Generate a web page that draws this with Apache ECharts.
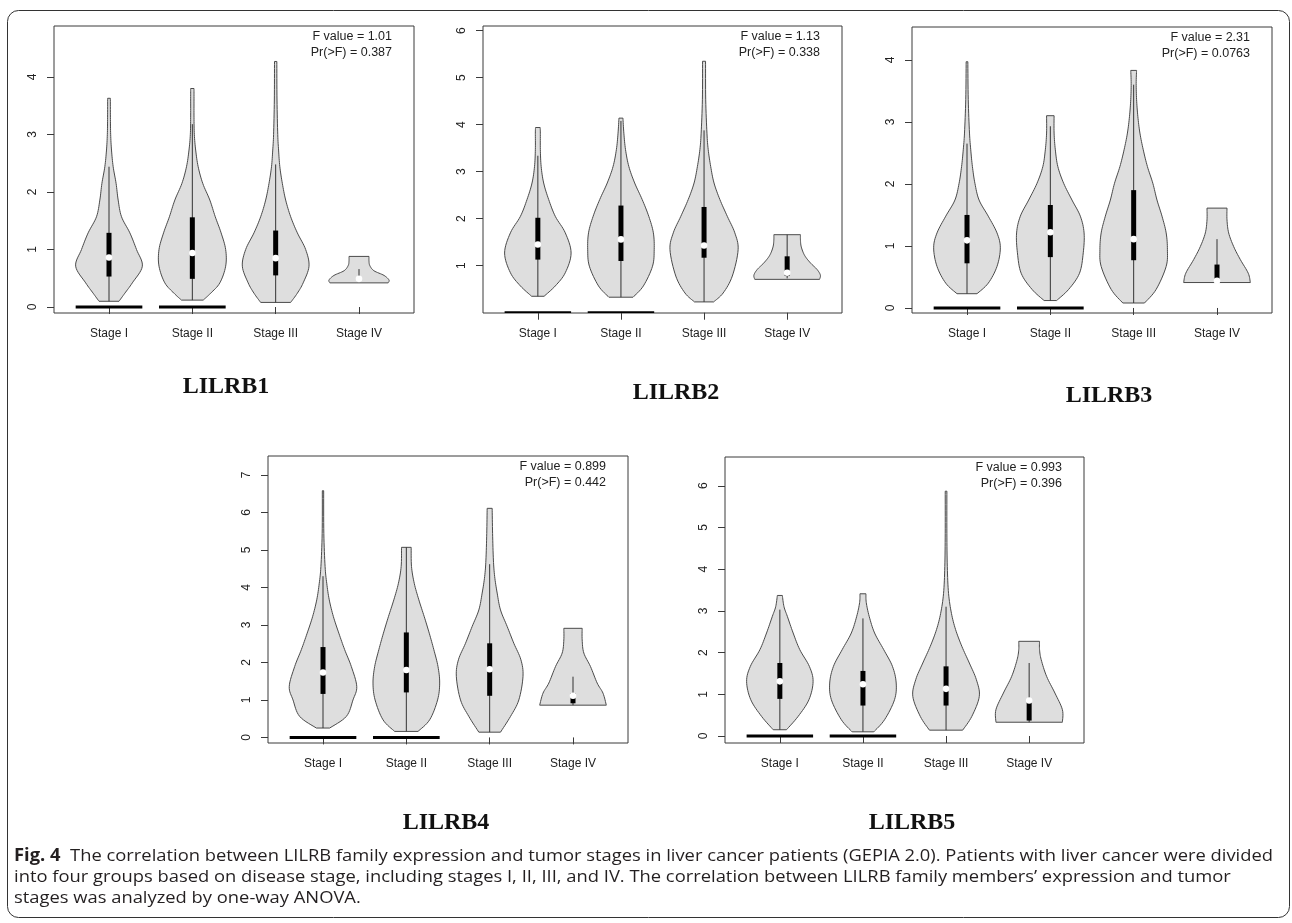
<!DOCTYPE html>
<html>
<head>
<meta charset="utf-8">
<script src="https://cdn.jsdelivr.net/npm/echarts@6/dist/echarts.min.js"></script>
<style>
  html, body { margin: 0; padding: 0; background: #fff; }
  #chart { width: 1292px; height: 923px; }
</style>
</head>
<body>
<div id="chart"></div>
<script>
// ---- data -------------------------------------------------------------
const stages = ['Stage I', 'Stage II', 'Stage III', 'Stage IV'];
const genes = ['LILRB1', 'LILRB2', 'LILRB3', 'LILRB4', 'LILRB5'];
const fValues = ['1.01', '1.13', '2.31', '0.899', '0.993'];
const pValues = ['0.387', '0.338', '0.0763', '0.442', '0.396'];

// y-axis tick labels for each panel
const yTicks1 = [0, 1, 2, 3, 4];
const yTicks2 = [1, 2, 3, 4, 5, 6];
const yTicks3 = [0, 1, 2, 3, 4];
const yTicks4 = [0, 1, 2, 3, 4, 5, 6, 7];
const yTicks5 = [0, 1, 2, 3, 4, 5, 6];

// violin outlines per stage: [expression, half width in category units], bottom to top
const lilrb1Violins = [
  [[0.10,0.12],[0.24,0.19],[0.42,0.28],[0.71,0.40],[1.00,0.33],[1.29,0.25],[1.57,0.15],[1.86,0.11],[2.15,0.085],[2.44,0.05],[2.73,0.03],[3.00,0.02],[3.30,0.017],[3.63,0.016]],
  [[0.12,0.13],[0.24,0.22],[0.42,0.33],[0.71,0.40],[1.00,0.40],[1.29,0.345],[1.57,0.275],[1.86,0.21],[2.15,0.125],[2.44,0.07],[2.73,0.04],[3.00,0.024],[3.30,0.02],[3.60,0.02],[3.80,0.02]],
  [[0.08,0.18],[0.24,0.26],[0.42,0.33],[0.71,0.40],[1.00,0.36],[1.29,0.26],[1.57,0.18],[1.86,0.12],[2.15,0.08],[2.44,0.05],[2.73,0.035],[3.00,0.025],[3.60,0.016],[4.27,0.014]],
  [[0.42,0.35],[0.47,0.36],[0.55,0.30],[0.63,0.18],[0.72,0.13],[0.80,0.12],[0.88,0.12]]
];
const lilrb2Violins = [
  [[0.35,0.075],[0.57,0.21],[0.85,0.33],[1.27,0.40],[1.70,0.33],[2.05,0.21],[2.41,0.13],[2.76,0.07],[3.11,0.04],[3.47,0.03],[3.82,0.03],[3.94,0.028]],
  [[0.33,0.145],[0.57,0.27],[0.99,0.38],[1.34,0.40],[1.70,0.39],[2.05,0.335],[2.41,0.255],[2.76,0.165],[3.11,0.095],[3.47,0.055],[3.82,0.035],[4.14,0.024]],
  [[0.23,0.115],[0.42,0.23],[0.78,0.34],[1.34,0.41],[1.70,0.37],[2.05,0.28],[2.41,0.19],[2.76,0.12],[3.11,0.08],[3.47,0.05],[3.82,0.035],[4.53,0.02],[5.35,0.018]],
  [[0.71,0.39],[0.80,0.40],[0.92,0.36],[1.06,0.28],[1.22,0.21],[1.40,0.17],[1.55,0.16],[1.66,0.16]]
];
const lilrb3Violins = [
  [[0.23,0.12],[0.40,0.255],[0.67,0.36],[0.97,0.40],[1.21,0.36],[1.48,0.255],[1.74,0.145],[2.01,0.095],[2.28,0.065],[2.55,0.045],[2.82,0.03],[3.36,0.015],[3.97,0.01]],
  [[0.12,0.075],[0.30,0.22],[0.56,0.35],[0.89,0.395],[1.21,0.405],[1.48,0.36],[1.74,0.26],[2.01,0.16],[2.28,0.09],[2.55,0.06],[2.82,0.045],[3.10,0.045]],
  [[0.08,0.13],[0.30,0.27],[0.67,0.39],[0.94,0.405],[1.21,0.39],[1.48,0.34],[1.74,0.28],[2.01,0.23],[2.28,0.165],[2.55,0.115],[2.82,0.075],[3.09,0.05],[3.36,0.035],[3.62,0.03],[3.83,0.035]],
  [[0.41,0.40],[0.56,0.375],[0.78,0.28],[0.99,0.20],[1.21,0.14],[1.42,0.12],[1.61,0.12]]
];
const lilrb4Violins = [
  [[0.25,0.08],[0.56,0.28],[1.00,0.36],[1.36,0.405],[1.89,0.34],[2.34,0.26],[2.78,0.19],[3.22,0.125],[3.67,0.075],[4.11,0.045],[4.56,0.025],[5.44,0.01],[6.58,0.008]],
  [[0.16,0.14],[0.47,0.28],[1.00,0.375],[1.45,0.40],[1.89,0.38],[2.34,0.33],[2.78,0.275],[3.22,0.215],[3.67,0.15],[4.11,0.095],[4.56,0.062],[5.07,0.058]],
  [[0.14,0.13],[0.56,0.25],[1.00,0.35],[1.63,0.40],[2.07,0.375],[2.51,0.29],[2.96,0.21],[3.40,0.13],[3.85,0.09],[4.29,0.06],[4.73,0.045],[5.44,0.035],[6.11,0.03]],
  [[0.86,0.40],[1.18,0.36],[1.45,0.29],[1.89,0.21],[2.25,0.13],[2.60,0.11],[2.91,0.11]]
];
const lilrb5Violins = [
  [[0.15,0.08],[0.47,0.22],[0.87,0.35],[1.31,0.40],[1.67,0.355],[2.07,0.24],[2.47,0.16],[2.87,0.09],[3.10,0.05],[3.37,0.03]],
  [[0.10,0.13],[0.39,0.26],[0.87,0.38],[1.27,0.40],[1.67,0.355],[2.07,0.25],[2.47,0.14],[2.87,0.075],[3.20,0.04],[3.41,0.036]],
  [[0.14,0.20],[0.47,0.31],[0.95,0.40],[1.35,0.365],[1.75,0.28],[2.15,0.19],[2.55,0.115],[2.94,0.065],[3.42,0.03],[4.06,0.015],[4.86,0.01],[5.87,0.01]],
  [[0.33,0.40],[0.63,0.40],[1.03,0.31],[1.43,0.21],[1.83,0.145],[2.07,0.125],[2.27,0.125]]
];

// box summaries per stage: [whisker low, Q1, median, Q3, whisker high]
const lilrb1Boxes = [[0.10,0.53,0.86,1.29,2.44],[0.12,0.49,0.94,1.56,3.18],[0.08,0.55,0.85,1.33,2.48],[0.45,0.47,0.49,0.52,0.66]];
const lilrb2Boxes = [[0.35,1.13,1.45,2.02,3.34],[0.33,1.10,1.56,2.28,4.08],[0.23,1.17,1.43,2.25,3.88],[0.73,0.78,0.85,1.20,1.66]];
const lilrb3Boxes = [[0.23,0.72,1.09,1.50,2.65],[0.12,0.82,1.22,1.66,2.93],[0.08,0.77,1.11,1.90,3.60],[0.41,0.44,0.44,0.70,1.11]];
const lilrb4Boxes = [[0.25,1.16,1.73,2.41,4.30],[0.16,1.20,1.80,2.80,5.07],[0.14,1.11,1.82,2.51,4.62],[0.86,0.91,1.11,1.18,1.62]];
const lilrb5Boxes = [[0.15,0.89,1.31,1.75,3.03],[0.10,0.73,1.24,1.56,2.82],[0.14,0.73,1.13,1.67,3.10],[0.33,0.37,0.85,0.89,1.75]];

// half width of the bar of zero-expression samples at y = 0 (0 = none)
const zeroBars = [0.40, 0.40, 0, 0];

// ---- layout -----------------------------------------------------------
const panels = [
  { violins: lilrb1Violins, boxes: lilrb1Boxes, ticks: yTicks1, left: 54,  top: 26,  width: 360, height: 287, ymin: -0.104, ymax: 4.887, title: [226, 387] },
  { violins: lilrb2Violins, boxes: lilrb2Boxes, ticks: yTicks2, left: 483, top: 26,  width: 359, height: 287, ymin: -0.006, ymax: 6.10,  title: [676, 393] },
  { violins: lilrb3Violins, boxes: lilrb3Boxes, ticks: yTicks3, left: 912, top: 27,  width: 360, height: 286, ymin: -0.081, ymax: 4.53,  title: [1109, 396] },
  { violins: lilrb4Violins, boxes: lilrb4Boxes, ticks: yTicks4, left: 268, top: 456, width: 360, height: 287, ymin: -0.149, ymax: 7.506, title: [446, 823] },
  { violins: lilrb5Violins, boxes: lilrb5Boxes, ticks: yTicks5, left: 725, top: 457, width: 359, height: 286, ymin: -0.168, ymax: 6.69,  title: [912, 823] }
];

const AXIS_FONT = '"Liberation Sans", Arial, sans-serif';
const FRAME = '#3a3a3a';

// Catmull-Rom smoothing of a pixel polyline
function spline(pts, steps) {
  const out = [];
  const n = pts.length;
  for (let i = 0; i < n - 1; i++) {
    const p0 = pts[Math.max(i - 1, 0)], p1 = pts[i], p2 = pts[i + 1], p3 = pts[Math.min(i + 2, n - 1)];
    for (let s = 0; s < steps; s++) {
      const t = s / steps, t2 = t * t, t3 = t2 * t;
      const f = (a, b, c, d) => 0.5 * (2 * b + (-a + c) * t + (2 * a - 5 * b + 4 * c - d) * t2 + (-a + 3 * b - 3 * c + d) * t3);
      out.push([f(p0[0], p1[0], p2[0], p3[0]), f(p0[1], p1[1], p2[1], p3[1])]);
    }
  }
  out.push(pts[n - 1]);
  return out;
}

function makeRenderer(panel) {
  return function (params, api) {
    const i = params.dataIndex;
    const cx = i + 1;
    const prof = panel.violins[i];
    const box = panel.boxes[i];
    const right = spline(prof.map(p => api.coord([cx + p[1], p[0]])), 8);
    const left = spline(prof.map(p => api.coord([cx - p[1], p[0]])), 8).reverse();
    const children = [{
      type: 'polygon',
      shape: { points: right.concat(left) },
      style: { fill: '#dedede', stroke: '#4a4a4a', lineWidth: 1 }
    }];
    const c = api.coord([cx, 0])[0];
    const lo = api.coord([cx, box[0]])[1];
    const q1 = api.coord([cx, box[1]])[1];
    const md = api.coord([cx, box[2]])[1];
    const q3 = api.coord([cx, box[3]])[1];
    const hi = api.coord([cx, box[4]])[1];
    children.push({ type: 'line', shape: { x1: c, y1: lo, x2: c, y2: hi }, style: { stroke: '#333', lineWidth: 1 } });
    children.push({ type: 'rect', shape: { x: c - 2.5, y: q3, width: 5, height: Math.max(q1 - q3, 1) }, style: { fill: '#000' } });
    children.push({ type: 'circle', shape: { cx: c, cy: md, r: 3.3 }, style: { fill: '#fff' } });
    if (zeroBars[i] > 0) {
      const a = api.coord([cx - zeroBars[i], 0]);
      const b = api.coord([cx + zeroBars[i], 0]);
      children.push({ type: 'line', shape: { x1: a[0], y1: a[1], x2: b[0], y2: b[1] }, style: { stroke: '#000', lineWidth: 3 } });
    }
    return { type: 'group', children };
  };
}

const grid = [], xAxis = [], yAxis = [], series = [], graphic = [];

panels.forEach((p, k) => {
  grid.push({
    left: p.left, top: p.top, width: p.width, height: p.height,
    show: true, borderColor: FRAME, borderWidth: 1, backgroundColor: 'transparent'
  });
  xAxis.push({
    type: 'value', gridIndex: k, min: 0.34, max: 4.66,
    axisLine: { show: false }, splitLine: { show: false },
    axisTick: { show: true, length: 7, customValues: [1, 2, 3, 4], lineStyle: { color: FRAME } },
    axisLabel: {
      customValues: [1, 2, 3, 4], margin: 15, fontSize: 12, color: '#222', fontFamily: AXIS_FONT,
      formatter: v => stages[Math.round(v) - 1]
    }
  });
  yAxis.push({
    type: 'value', gridIndex: k, min: p.ymin, max: p.ymax,
    axisLine: { show: false }, splitLine: { show: false },
    axisTick: { show: true, length: 7, customValues: p.ticks, lineStyle: { color: FRAME } },
    axisLabel: { customValues: p.ticks, rotate: 90, margin: 15, fontSize: 12, color: '#222', fontFamily: AXIS_FONT }
  });
  series.push({
    type: 'custom', xAxisIndex: k, yAxisIndex: k, clip: true, silent: true,
    renderItem: makeRenderer(p),
    data: p.violins.map((v, i) => [i + 1, v[0][0], v[v.length - 1][0]]),
    encode: { x: 0, y: [1, 2] }
  });
  const tx = p.left + p.width - 22;
  graphic.push({ type: 'text', x: tx, y: p.top + 11, style: { text: 'F value = ' + fValues[k], align: 'right', verticalAlign: 'middle', font: '12.5px ' + AXIS_FONT, fill: '#222' } });
  graphic.push({ type: 'text', x: tx, y: p.top + 27, style: { text: 'Pr(>F) = ' + pValues[k], align: 'right', verticalAlign: 'middle', font: '12.5px ' + AXIS_FONT, fill: '#222' } });
  graphic.push({ type: 'text', x: p.title[0], y: p.title[1], style: { text: genes[k], align: 'center', verticalAlign: 'middle', font: 'bold 24px "Liberation Serif", "Times New Roman", serif', fill: '#111' } });
});

// figure frame
graphic.push({ type: 'rect', z: -1, shape: { x: 7.5, y: 10.5, width: 1282, height: 907, r: 11 }, style: { fill: 'none', stroke: '#333', lineWidth: 1 } });

// caption
const capFont = '"Open Sans", "Noto Sans", sans-serif';
const capSize = 17;
const capLead = 'Fig. 4';
const capLine1 = '  The correlation between LILRB family expression and tumor stages in liver cancer patients (GEPIA 2.0). Patients with liver cancer were divided';
const capLine2 = 'into four groups based on disease stage, including stages I, II, III, and IV. The correlation between LILRB family members\u2019 expression and tumor';
const capLine3 = 'stages was analyzed by one-way ANOVA.';
const ctx = document.createElement('canvas').getContext('2d');
ctx.font = 'bold ' + capSize + 'px ' + capFont;
const wLead = ctx.measureText(capLead).width;
ctx.font = capSize + 'px ' + capFont;
const wLine1 = ctx.measureText(capLine1).width;
const capScale = (1273 - 14) / (wLead + wLine1);
graphic.push({
  type: 'text', x: 14, y: 856, scaleX: capScale,
  style: {
    text: '{b|' + capLead + '}' + capLine1, x: 0, y: 0, verticalAlign: 'middle',
    font: capSize + 'px ' + capFont, fill: '#231f20',
    rich: { b: { fontWeight: 'bold', fontSize: capSize, fontFamily: capFont, fill: '#231f20' } }
  }
});
graphic.push({ type: 'text', x: 14, y: 877, scaleX: capScale, style: { text: capLine2, x: 0, y: 0, verticalAlign: 'middle', font: capSize + 'px ' + capFont, fill: '#231f20' } });
graphic.push({ type: 'text', x: 14, y: 898, scaleX: capScale, style: { text: capLine3, x: 0, y: 0, verticalAlign: 'middle', font: capSize + 'px ' + capFont, fill: '#231f20' } });

const chart = echarts.init(document.getElementById('chart'), null, { renderer: 'canvas' });
chart.setOption({ animation: false, backgroundColor: '#fff', grid, xAxis, yAxis, series, graphic });
</script>
</body>
</html>
